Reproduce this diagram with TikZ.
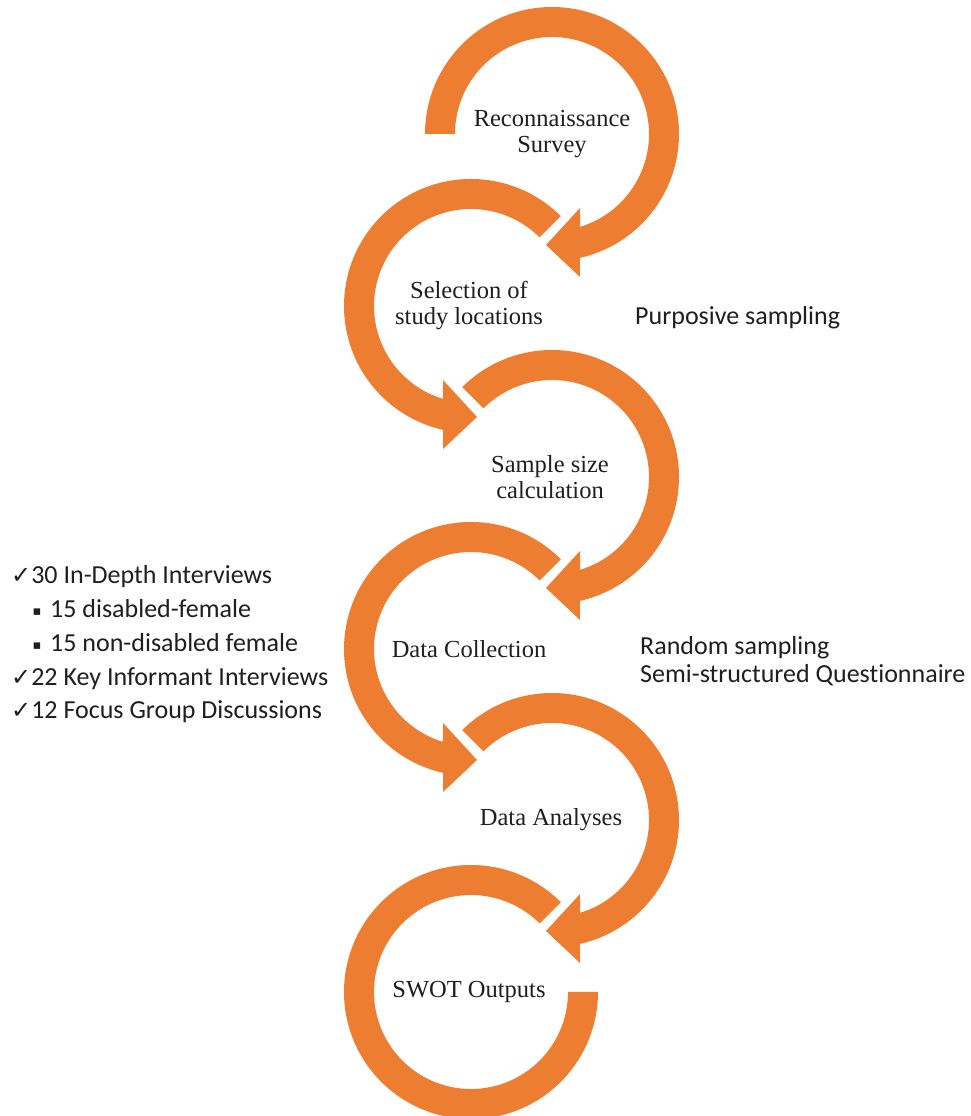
\documentclass[tikz,border=0pt]{standalone}
\usepackage{fontspec}
\setmainfont{Liberation Serif}
\newfontfamily\calib[Ligatures=NoCommon]{Carlito}
\newfontfamily\dejavu{DejaVu Sans}
\usetikzlibrary{calc}
\definecolor{ringorange}{HTML}{ED7D31}
\definecolor{txt}{HTML}{1F1F1F}
\begin{document}
\begin{tikzpicture}[x=1pt,y=1pt,
  ring/.style={fill=ringorange, draw=none},
  steplabel/.style={font=\fontsize{24.5}{26}\selectfont, text=txt, align=center, inner sep=0pt},
  sidelabel/.style={font=\calib\fontsize{26}{30}\selectfont, text=txt, inner sep=0pt, anchor=base west},
  bulletmark/.style={font=\dejavu\fontsize{13}{13}\selectfont, text=txt, inner sep=0pt, anchor=base},
]
\useasboundingbox (0,0) rectangle (970,1116);
\fill[white] (0,0) rectangle (970,1116);

\coordinate (c1) at (552,982);
\coordinate (c2) at (471,810);
\coordinate (c3) at (552,639);
\coordinate (c4) at (471,467);
\coordinate (c5) at (552,296);
\coordinate (c6) at (471,124);

% ring 1 (clockwise, flat start at left)
\fill[ring] ($(c1)+(180:127)$) arc[start angle=180, end angle=-77.3, radius=127]
  -- ($(c1)+(28,-143)$) -- ($(c1)+(-6,-111)$) -- ($(c1)+(28,-74)$)
  -- ($(c1)+(-73.2:97)$) arc[start angle=-73.2, end angle=180, radius=97] -- cycle;
% ring 2 (counter-clockwise)
\fill[ring] ($(c2)+(45:127)$) arc[start angle=45, end angle=257.3, radius=127]
  -- ($(c2)+(-28,-143)$) -- ($(c2)+(6,-111)$) -- ($(c2)+(-28,-74)$)
  -- ($(c2)+(253.2:97)$) arc[start angle=253.2, end angle=45, radius=97] -- cycle;
% ring 3 (clockwise)
\fill[ring] ($(c3)+(135:127)$) arc[start angle=135, end angle=-77.3, radius=127]
  -- ($(c3)+(28,-143)$) -- ($(c3)+(-6,-111)$) -- ($(c3)+(28,-74)$)
  -- ($(c3)+(-73.2:97)$) arc[start angle=-73.2, end angle=135, radius=97] -- cycle;
% ring 4 (counter-clockwise)
\fill[ring] ($(c4)+(45:127)$) arc[start angle=45, end angle=257.3, radius=127]
  -- ($(c4)+(-28,-143)$) -- ($(c4)+(6,-111)$) -- ($(c4)+(-28,-74)$)
  -- ($(c4)+(253.2:97)$) arc[start angle=253.2, end angle=45, radius=97] -- cycle;
% ring 5 (clockwise)
\fill[ring] ($(c5)+(135:127)$) arc[start angle=135, end angle=-77.3, radius=127]
  -- ($(c5)+(28,-143)$) -- ($(c5)+(-6,-111)$) -- ($(c5)+(28,-74)$)
  -- ($(c5)+(-73.2:97)$) arc[start angle=-73.2, end angle=135, radius=97] -- cycle;
% ring 6 (counter-clockwise, flat end at right)
\fill[ring] ($(c6)+(45:127)$) arc[start angle=45, end angle=360, radius=127]
  -- ($(c6)+(0:97)$) arc[start angle=360, end angle=45, radius=97] -- cycle;

% step labels
\node[steplabel] (n1) at (552,982) {Reconnaissance\\Survey};
\node[steplabel] (n2) at (469,810) {Selection of\\study locations};
\node[steplabel] (n3) at (550,639) {Sample size\\calculation};
\node[steplabel] (n4) at (469,467) {Data Collection};
\node[steplabel] (n5) at (551,296) {Data Analyses};
\node[steplabel] (n6) at (469,124) {SWOT Outputs};

% right side notes
\node[sidelabel] (p1) at (635,791) {Purposive sampling};
\node[sidelabel] (r1) at (640,461) {Random sampling};
\node[sidelabel] (r2) at (640,433) {Semi-structured Questionnaire};

% left list
\node[sidelabel] (l1) at (11,532) {{\dejavu\fontsize{24}{24}\selectfont ✓}30 In-Depth Interviews};
\node[bulletmark] (b2) at (37,500) {▪};
\node[sidelabel] (l2) at (50,498) {15 disabled-female};
\node[bulletmark] (b3) at (37,466) {▪};
\node[sidelabel] (l3) at (50,464) {15 non-disabled female};
\node[sidelabel] (l4) at (11,430) {{\dejavu\fontsize{24}{24}\selectfont ✓}22 Key Informant Interviews};
\node[sidelabel] (l5) at (11,397) {{\dejavu\fontsize{24}{24}\selectfont ✓}12 Focus Group Discussions};
\end{tikzpicture}
\end{document}
